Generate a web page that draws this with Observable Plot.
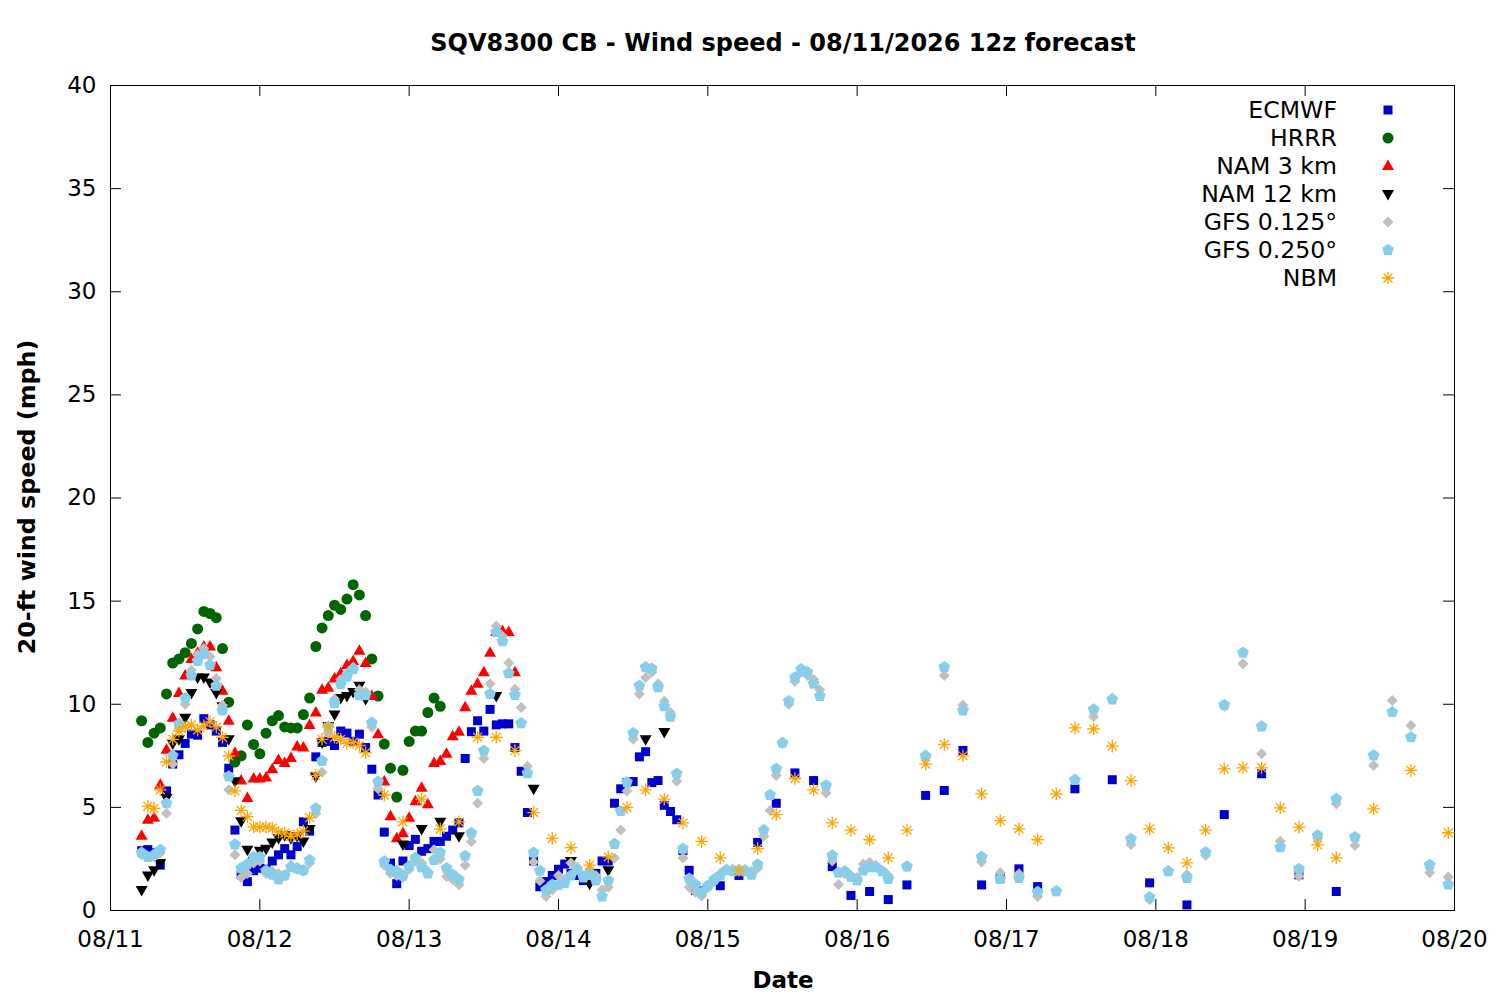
<!DOCTYPE html>
<html><head><meta charset="utf-8">
<script src="https://cdn.jsdelivr.net/npm/d3@7"></script>
<script src="https://cdn.jsdelivr.net/npm/@observablehq/plot@0.6"></script>
<style>
body{margin:0;background:#fff;}
#chart{width:1500px;height:1000px;}
</style>
</head><body><div id="chart"></div>
<script>
// ---------- DATA (hours after 08/11 00:00) ----------
const DAY_LABELS = ["08/11","08/12","08/13","08/14","08/15","08/16","08/17","08/18","08/19","08/20"];
const Y_TICKS = [0,5,10,15,20,25,30,35,40];

// ECMWF: hourly from h5 to h95, then 3/6-hourly
const ecmwfStart = 5;
const ecmwfHourly = [2.9,2.95,2.8,2.2,5.8,7.1,7.55,8.1,8.55,8.5,
  9.3,9.0,8.7,8.15,6.9,3.9,1.73,1.4,1.93,2.05,
  2.0,2.4,2.7,3.0,2.7,3.1,4.3,3.85,7.45,8.15,
  8.2,8.0,8.7,8.6,8.2,8.55,7.9,6.85,5.6,3.8,
  2.3,1.3,2.4,3.15,3.45,2.87,3.0,3.35,3.35,3.6,
  3.9,4.25,7.37,8.67,9.2,8.7,9.75,9.0,9.05,9.05,
  7.9,6.75,4.75,2.4,1.15,1.4,1.7,2.0,2.25,1.8,
  1.7,1.45,1.8,1.8,2.4,2.4,5.2,5.9,6.2,6.25,
  7.45,7.7,6.2,6.3,5.1,4.8,4.4,2.9,1.95,0.97,
  0.95];
const ecmwfLateHours = [98,101,104,107,110,113,116,119,122,125,128,131,134,137,140,143,146,149,155,161,167,173,179,185,191,197];
const ecmwfLate = [1.2,1.7,3.3,5.2,6.67,6.3,2.13,0.73,0.92,0.53,1.24,5.58,5.82,7.76,1.24,1.57,2.02,1.16,5.9,6.34,1.34,0.27,4.65,6.63,1.73,0.92];

// HRRR: hourly h5..h53
const hrrrStart = 5;
const hrrr = [9.2,8.15,8.6,8.85,10.5,12.0,12.2,12.5,12.95,13.65,
  14.5,14.4,14.2,12.7,10.1,7.2,7.5,9.0,8.05,7.6,
  8.6,9.2,9.45,8.9,8.85,8.85,9.5,10.3,12.8,13.7,
  14.3,14.8,14.6,15.1,15.8,15.3,14.3,12.2,10.4,8.07,
  6.9,5.5,6.8,8.2,8.7,8.7,9.6,10.3,9.9];

// NAM 3 km: hourly h5..h65
const nam3Start = 5;
const nam3 = [3.63,4.4,4.5,6.1,7.8,9.35,10.55,11.4,12.2,12.5,
  12.8,12.8,11.8,10.65,9.2,7.65,6.3,5.45,6.4,6.4,
  6.45,6.85,7.3,7.15,7.4,7.95,7.9,9.0,9.6,10.7,
  10.8,11.25,11.5,11.9,12.1,12.6,12.0,10.4,8.55,6.25,
  4.57,3.5,3.75,4.5,5.3,5.95,5.15,7.15,7.25,7.6,
  8.45,8.67,9.85,10.65,11.0,11.55,12.5,13.5,13.55,13.5,11.55];

// NAM 12 km: hourly h5..h41, then 3-hourly
const nam12Start = 5;
const nam12Hourly = [1.0,1.7,1.95,2.3,5.45,8.1,8.3,9.35,10.55,11.3,
  11.3,11.05,10.55,9.9,8.3,6.27,4.33,2.95,2.4,2.9,
  3.0,3.3,3.5,3.65,3.5,3.6,3.35,3.95,6.5,8.15,
  8.95,9.5,10.3,10.4,10.6,10.9,10.25];
const nam12LateHours = [47,50,53,56,62,68,71,74,77,80,86,89];
const nam12Late = [3.2,3.95,4.3,3.6,10.4,5.9,1.1,2.4,1.3,1.95,8.3,8.65];

// GFS 0.125: hourly h5..h125, then 3-hourly h128..h215
const gfs125Start = 5;
const gfs125Hourly = [2.7,2.6,2.6,2.8,4.7,7.1,8.8,10.0,11.65,12.4,
  12.7,12.3,11.25,9.95,5.85,2.7,1.6,1.8,2.3,2.4,
  1.8,1.9,1.8,1.7,2.2,2.0,1.9,2.3,4.7,6.7,
  8.6,10.25,11.2,11.5,11.8,10.7,10.6,8.9,5.9,2.2,
  1.8,1.7,1.6,2.0,2.4,2.3,1.9,2.95,2.5,1.65,
  1.5,1.25,2.2,3.35,5.2,7.37,11.0,13.8,13.3,12.0,
  10.73,9.84,7.0,2.35,1.44,0.68,1.0,1.7,1.5,2.3,
  2.1,1.7,1.9,1.7,1.0,1.13,2.55,3.9,5.8,8.3,
  10.5,11.3,11.55,11.0,10.15,9.6,6.27,2.55,1.13,0.89,
  0.7,1.1,1.4,1.8,2.0,2.0,2.0,2.0,1.9,2.05,
  3.6,4.85,6.55,8.1,10.0,11.1,11.55,11.4,11.2,10.7,
  5.7,2.4,1.26,1.78,1.7,1.6,2.26,2.34,2.2,1.94,
  1.7];
const gfs125LateStart = 128;
const gfs125Late = [2.13,7.4,11.4,9.95,2.35,1.83,1.78,0.68,0.94,6.38,
  9.4,10.3,3.2,0.52,1.94,1.75,2.67,9.9,11.96,7.6,
  3.36,1.66,3.5,5.17,3.15,7.03,10.18,8.97,1.83,1.62];

// GFS 0.250: hourly h5..h125, then 3-hourly h128..h215
const gfs250Start = 5;
const gfs250Hourly = [2.8,2.6,2.7,2.95,5.2,7.5,9.05,10.3,11.4,12.1,
  12.45,11.9,10.9,9.7,6.5,3.2,2.05,2.25,2.6,2.6,
  1.93,1.73,1.5,1.7,2.1,2.05,1.95,2.45,4.95,7.25,
  8.9,10.05,10.97,11.33,11.7,10.44,10.44,9.1,6.24,2.38,
  1.98,1.9,1.7,2.14,2.55,2.1,1.8,2.45,2.8,2.05,
  1.73,1.5,2.65,3.76,5.8,7.75,10.5,13.5,13.05,11.5,
  10.45,9.08,6.66,2.8,1.93,1.0,1.25,1.25,1.33,1.7,
  1.97,1.6,1.78,1.45,0.68,1.45,3.23,4.82,6.22,8.6,
  10.9,11.8,11.72,10.83,9.9,9.4,6.63,3.0,1.54,1.26,
  0.86,1.2,1.5,1.7,1.97,1.9,1.94,1.9,1.73,2.23,
  3.9,5.6,6.87,8.13,10.15,11.3,11.7,11.55,11.0,10.4,
  6.06,2.67,1.83,1.9,1.62,1.45,1.94,2.1,2.1,1.9,
  1.53];
const gfs250LateStart = 128;
const gfs250Late = [2.13,7.5,11.8,9.7,2.6,1.53,1.58,0.9,0.94,6.33,
  9.75,10.23,3.47,0.65,1.9,1.58,2.83,9.97,12.5,8.92,
  3.07,2.02,3.64,5.41,3.56,7.52,9.62,8.4,2.21,1.26];

// NBM: hourly h6..h41, 3-hourly h44..h197, 6-hourly h203..h215
const nbmStart = 6;
const nbmHourly = [5.05,4.95,5.85,7.2,8.3,8.7,8.9,9.0,8.75,8.95,
  9.15,8.9,8.4,7.5,5.8,4.85,4.55,4.05,4.05,4.05,
  4.0,3.8,3.75,3.6,3.7,3.85,4.5,6.55,8.3,8.9,
  8.4,8.3,8.1,8.15,8.0,7.65];
const nbm3hStart = 44;
const nbm3h = [5.6,4.3,5.4,3.95,4.3,8.4,8.4,7.75,4.75,3.5,
  3.05,2.2,2.6,5.0,5.85,5.4,4.25,3.35,2.55,1.94,
  3.0,4.65,6.4,5.85,4.25,3.9,3.43,2.55,3.9,7.1,
  8.05,7.5,5.65,4.36,3.96,3.43,5.65,8.85,8.8,7.97,
  6.3,3.96,3.04,2.31,3.9,6.87,6.92,6.92,4.98,4.04,
  3.18,2.55];
const nbm6hStart = 203;
const nbm6h = [4.93,6.79,3.77];

// ---------- helpers ----------
const T0 = Date.UTC(2026, 7, 11);
const HOUR = 3600e3;
const toDate = h => new Date(T0 + h * HOUR);
const regular = (start, step, vals) => vals.map((v, i) => ({t: toDate(start + i * step), v}));
const listed = (hours, vals) => vals.map((v, i) => ({t: toDate(hours[i]), v}));

const ecmwfData = regular(ecmwfStart, 1, ecmwfHourly).concat(listed(ecmwfLateHours, ecmwfLate));
const hrrrData = regular(hrrrStart, 1, hrrr);
const nam3Data = regular(nam3Start, 1, nam3);
const nam12Data = regular(nam12Start, 1, nam12Hourly).concat(listed(nam12LateHours, nam12Late));
const gfs125Data = regular(gfs125Start, 1, gfs125Hourly).concat(regular(gfs125LateStart, 3, gfs125Late));
const gfs250Data = regular(gfs250Start, 1, gfs250Hourly).concat(regular(gfs250LateStart, 3, gfs250Late));
const nbmData = regular(nbmStart, 1, nbmHourly).concat(regular(nbm3hStart, 3, nbm3h), regular(nbm6hStart, 6, nbm6h));

const dayDates = DAY_LABELS.map((_, i) => toDate(i * 24));
const dayFmt = d => DAY_LABELS[Math.round((d - T0) / (24 * HOUR))];

// ---------- symbols ----------
const symSquare = {draw(c){c.moveTo(-4.5,-4.5);c.lineTo(4.5,-4.5);c.lineTo(4.5,4.5);c.lineTo(-4.5,4.5);c.closePath();}};
const symCircle = {draw(c){c.moveTo(5.5,0);c.arc(0,0,5.5,0,2*Math.PI);c.closePath();}};
const symTriUp = {draw(c){c.moveTo(0,-6.5);c.lineTo(6,4);c.lineTo(-6,4);c.closePath();}};
const symTriDown = {draw(c){c.moveTo(0,6.5);c.lineTo(6,-4);c.lineTo(-6,-4);c.closePath();}};
const symDiamond = {draw(c){c.moveTo(0,-5.5);c.lineTo(5.5,0);c.lineTo(0,5.5);c.lineTo(-5.5,0);c.closePath();}};
const symPentagon = {draw(c){for(let i=0;i<5;i++){const a=(-90+72*i)*Math.PI/180;const x=6.2*Math.cos(a),y=6.2*Math.sin(a);if(i===0)c.moveTo(x,y);else c.lineTo(x,y);}c.closePath();}};
const symStar = {draw(c){for(let i=0;i<4;i++){const a=i*Math.PI/4;const x=6.3*Math.cos(a),y=6.3*Math.sin(a);c.moveTo(-x,-y);c.lineTo(x,y);}}};

const series = [
  {name:"ECMWF", data:ecmwfData, sym:symSquare, color:"#0000cd", stroke:false},
  {name:"HRRR", data:hrrrData, sym:symCircle, color:"#006400", stroke:false},
  {name:"NAM 3 km", data:nam3Data, sym:symTriUp, color:"#ff0000", stroke:false},
  {name:"NAM 12 km", data:nam12Data, sym:symTriDown, color:"#000000", stroke:false},
  {name:"GFS 0.125°", data:gfs125Data, sym:symDiamond, color:"#c0c0c0", stroke:false},
  {name:"GFS 0.250°", data:gfs250Data, sym:symPentagon, color:"#87ceeb", stroke:false},
  {name:"NBM", data:nbmData, sym:symStar, color:"#ffa500", stroke:true}
];

// ---------- plot ----------
const W = 1500, H = 1000, ML = 110, MR = 46, MT = 85, MB = 90;
const xDomain = [toDate(0), toDate(216)];
const tickLenX = (216 * HOUR) * 11 / (W - ML - MR);  // 11 px in time units
const tickLenY = 40 * 11 / (H - MT - MB);              // 11 px in mph

const marks = [
  Plot.frame({stroke:"black", strokeWidth:1}),
  Plot.ruleX(dayDates, {x:d=>d, y1:0, y2:tickLenY, stroke:"black"}),
  Plot.ruleX(dayDates, {x:d=>d, y1:40 - tickLenY, y2:40, stroke:"black"}),
  Plot.ruleY(Y_TICKS, {y:d=>d, x1:xDomain[0], x2:new Date(+xDomain[0] + tickLenX), stroke:"black"}),
  Plot.ruleY(Y_TICKS, {y:d=>d, x1:new Date(+xDomain[1] - tickLenX), x2:xDomain[1], stroke:"black"}),
  Plot.axisX({ticks: dayDates, tickFormat: dayFmt, tickSize: 0, tickPadding: 20, label: null, fontSize: 23}),
  Plot.axisY({ticks: Y_TICKS, tickSize: 0, tickPadding: 14, label: null, fontSize: 23})
];
for (const s of series) {
  marks.push(Plot.dot(s.data, {
    x:"t", y:"v", symbol: s.sym, r: 5,
    fill: s.stroke ? "none" : s.color,
    stroke: s.stroke ? s.color : "none",
    strokeWidth: s.stroke ? 1.3 : 0
  }));
}

const plot = Plot.plot({
  width: W, height: H,
  marginLeft: ML, marginRight: MR, marginTop: MT, marginBottom: MB,
  style: {fontFamily: "DejaVu Sans", fontSize: "23px", background: "white", color: "black", overflow: "visible"},
  x: {type: "utc", domain: xDomain},
  y: {domain: [0, 40]},
  marks
});
document.getElementById("chart").appendChild(plot);

// ---------- titles & legend ----------
const svg = d3.select(plot);
svg.append("text").attr("x", 783).attr("y", 43).attr("text-anchor", "middle").attr("dominant-baseline", "central")
  .attr("font-family", "DejaVu Sans").attr("font-weight", "bold").attr("font-size", 24).attr("fill", "black")
  .text("SQV8300 CB - Wind speed - 08/11/2026 12z forecast");
svg.append("text").attr("x", 783).attr("y", 980).attr("text-anchor", "middle").attr("dominant-baseline", "central")
  .attr("font-family", "DejaVu Sans").attr("font-weight", "bold").attr("font-size", 23).attr("fill", "black")
  .text("Date");
svg.append("text").attr("transform", "translate(27,497) rotate(-90)").attr("text-anchor", "middle").attr("dominant-baseline", "central")
  .attr("font-family", "DejaVu Sans").attr("font-weight", "bold").attr("font-size", 23.8).attr("fill", "black")
  .text("20-ft wind speed (mph)");

const lg = svg.append("g");
series.forEach((s, i) => {
  const y = 110 + 28 * i;
  lg.append("text").attr("x", 1337).attr("y", y).attr("text-anchor", "end").attr("dominant-baseline", "central")
    .attr("font-family", "DejaVu Sans").attr("font-size", 23.6).attr("fill", "black").text(s.name);
  lg.append("path").attr("transform", `translate(1388,${y})`).attr("d", d3.symbol().type(s.sym)())
    .attr("fill", s.stroke ? "none" : s.color).attr("stroke", s.stroke ? s.color : "none").attr("stroke-width", 1.3);
});
</script></body></html>
